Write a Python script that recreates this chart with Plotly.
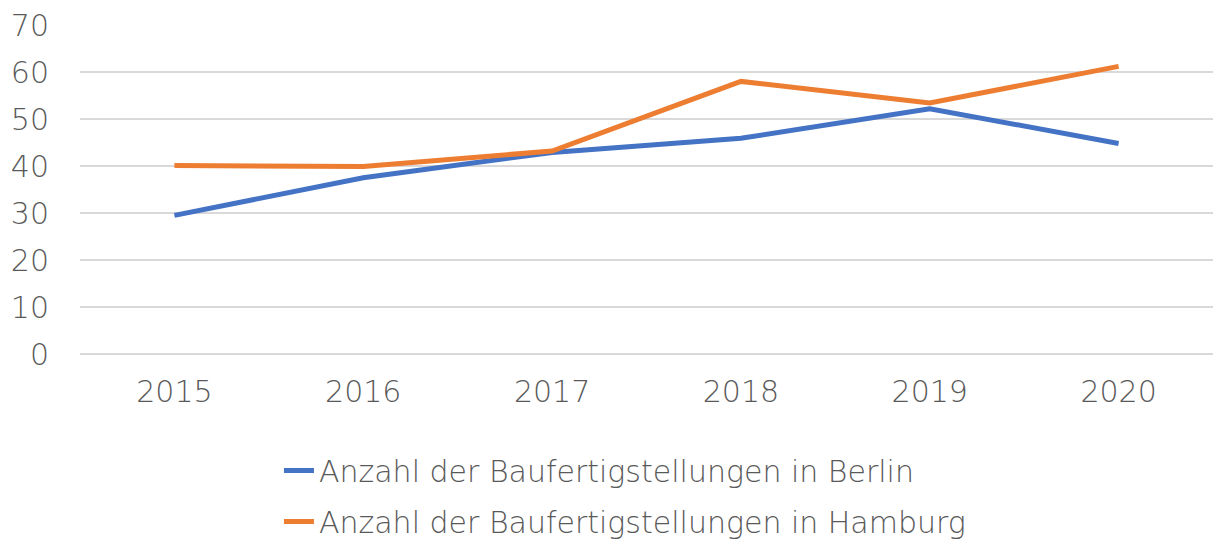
import plotly.graph_objects as go

years = ["2015", "2016", "2017", "2018", "2019", "2020"]
berlin = [29.5, 37.5, 42.9, 45.9, 52.2, 44.8]
hamburg = [40.1, 39.9, 43.2, 58.0, 53.4, 61.2]
series_names = ["Anzahl der Baufertigstellungen in Berlin",
                "Anzahl der Baufertigstellungen in Hamburg"]
y_ticks = [0, 10, 20, 30, 40, 50, 60, 70]

FONT = "DejaVu Sans"
GREY = "#595959"

fig = go.Figure()
fig.add_trace(go.Scatter(x=list(range(len(years))), y=berlin, mode="lines",
                         name=series_names[0], legendgroup="a",
                         line=dict(color="#4472C4", width=5)))
fig.add_trace(go.Scatter(x=list(range(len(years))), y=hamburg, mode="lines",
                         name=series_names[1], legendgroup="b",
                         line=dict(color="#ED7D31", width=5)))

fig.update_layout(
    width=1215, height=542,
    margin=dict(l=80, r=2, t=25, b=186, autoexpand=False),
    paper_bgcolor="white", plot_bgcolor="white",
    font=dict(family=FONT, color=GREY, size=30, weight=200),
    showlegend=True,
    legend=dict(orientation="v", x=0.1756, xanchor="left",
                yref="container", y=0.18, yanchor="top",
                font=dict(size=30, color=GREY, family=FONT, weight=200),
                tracegroupgap=9, bgcolor="rgba(0,0,0,0)"),
    xaxis=dict(tickvals=list(range(len(years))), ticktext=years,
               range=[-0.5, len(years) - 0.5], showgrid=False, zeroline=False,
               showline=False, ticks="", ticklabelstandoff=15,
               tickfont=dict(size=30, color=GREY, family=FONT, weight=200)),
    yaxis=dict(range=[-0.4, 70], tickvals=y_ticks, showgrid=True,
               gridcolor="#D9D9D9", gridwidth=1.5, zeroline=True,
               zerolinecolor="#D9D9D9", zerolinewidth=1.5,
               showline=False, ticks="", ticklabelstandoff=30,
               tickfont=dict(size=30, color=GREY, family=FONT, weight=200)),
)

fig.write_html("out.html")
